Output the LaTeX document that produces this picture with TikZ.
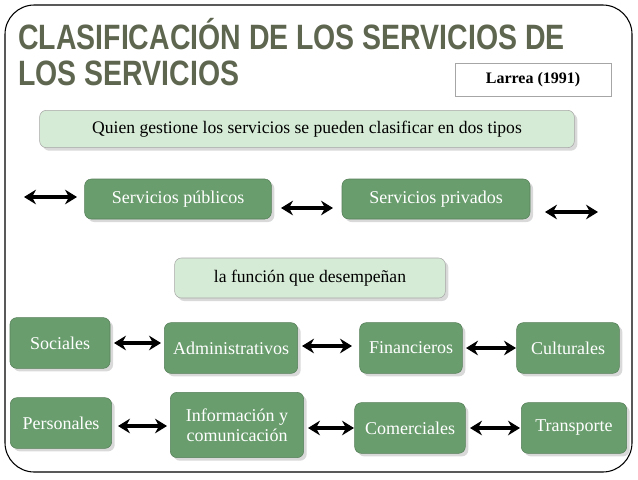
\documentclass[tikz,border=0pt]{standalone}
\usepackage{fontspec}
\setmainfont{Liberation Serif}
\newfontfamily\titlefont{Liberation Sans}
\usetikzlibrary{arrows.meta,shadows}
\definecolor{gbox}{HTML}{6A9D6E}
\definecolor{lbox}{HTML}{D6EBD6}
\definecolor{ttl}{HTML}{5E6650}
\tikzset{
 gnode/.style={draw=gbox!80!black, fill=gbox, rounded corners=5pt, text=white, font=\fontsize{13.5}{15}\selectfont, align=center, inner sep=0pt, drop shadow={opacity=0.3}},
 lnode/.style={draw=gray!70, fill=lbox, rounded corners=5pt, font=\fontsize{13.2}{15}\selectfont, inner sep=0pt, drop shadow={opacity=0.3}},
 dbl/.style={{Stealth[length=9pt,width=11pt,inset=3pt]}-{Stealth[length=9pt,width=11pt,inset=3pt]}, line width=2.6pt},
 ttlnode/.style={anchor=west, text=ttl, font=\titlefont\bfseries\fontsize{22}{26}\selectfont, inner sep=0pt},
}
\begin{document}
\begin{tikzpicture}[x=0.75pt,y=-0.75pt]
\useasboundingbox (0,0) rectangle (638,479);
\draw[rounded corners=22pt, line width=0.8pt] (5,5) rectangle (632,472);
\node[ttlnode] (t1) at (18,34) {\scalebox{0.97}[1.2]{CLASIFICACIÓN DE LOS SERVICIOS DE}};
\node[ttlnode] (t2) at (18,73) {\scalebox{0.97}[1.2]{LOS SERVICIOS}};
\node[draw=gray!70, fill=white, minimum width=117pt, minimum height=25pt, font=\bfseries\fontsize{12}{14}\selectfont, inner sep=0pt] (lar) at (533,80) {Larrea (1991)};
\node[lnode, minimum width=401pt, minimum height=28pt] (q) at (307,129) {Quien gestione los servicios se pueden clasificar en dos tipos};
\node[gnode, minimum width=140pt, minimum height=30pt] (pub) at (178,199) {Servicios públicos};
\node[gnode, minimum width=141pt, minimum height=30pt] (pri) at (436,199) {Servicios privados};
\coordinate (a1) at (24,197); \coordinate (a2) at (77,197);
\coordinate (b1) at (545,212); \coordinate (b2) at (598,212);
\coordinate (c1) at (281,208); \coordinate (c2) at (333,208);
\draw[dbl] (a1) -- (a2);
\draw[dbl] (c1) -- (c2);
\draw[dbl] (b1) -- (b2);
\node[lnode, minimum width=203pt, minimum height=30pt] (f) at (310,278) {la función que desempeñan};
\node[gnode, minimum width=75pt, minimum height=38pt] (soc) at (60,343) {Sociales};
\node[gnode, minimum width=100pt, minimum height=38pt] (adm) at (231,348) {Administrativos};
\node[gnode, minimum width=77pt, minimum height=38pt] (fin) at (411,348) {Financieros};
\node[gnode, minimum width=77pt, minimum height=38pt] (cul) at (568,348) {Culturales};
\node[gnode, minimum width=76pt, minimum height=38pt] (per) at (61,423) {Personales};
\node[gnode, minimum width=100pt, minimum height=49pt] (inf) at (237,425) {Información y\\comunicación};
\node[gnode, minimum width=83pt, minimum height=38pt] (com) at (410,428) {Comerciales};
\node[gnode, minimum width=79pt, minimum height=38pt] (tra) at (574,428) {Transporte};
\coordinate (d1) at (114,343); \coordinate (d2) at (161,343);
\coordinate (e1) at (302,346); \coordinate (e2) at (352,346);
\coordinate (g1) at (466,348); \coordinate (g2) at (516,348);
\coordinate (h1) at (118,426); \coordinate (h2) at (167,426);
\coordinate (i1) at (308,428); \coordinate (i2) at (354,428);
\coordinate (j1) at (470,428); \coordinate (j2) at (520,428);
\draw[dbl] (d1) -- (d2);
\draw[dbl] (e1) -- (e2);
\draw[dbl] (g1) -- (g2);
\draw[dbl] (h1) -- (h2);
\draw[dbl] (i1) -- (i2);
\draw[dbl] (j1) -- (j2);
\end{tikzpicture}
\end{document}
